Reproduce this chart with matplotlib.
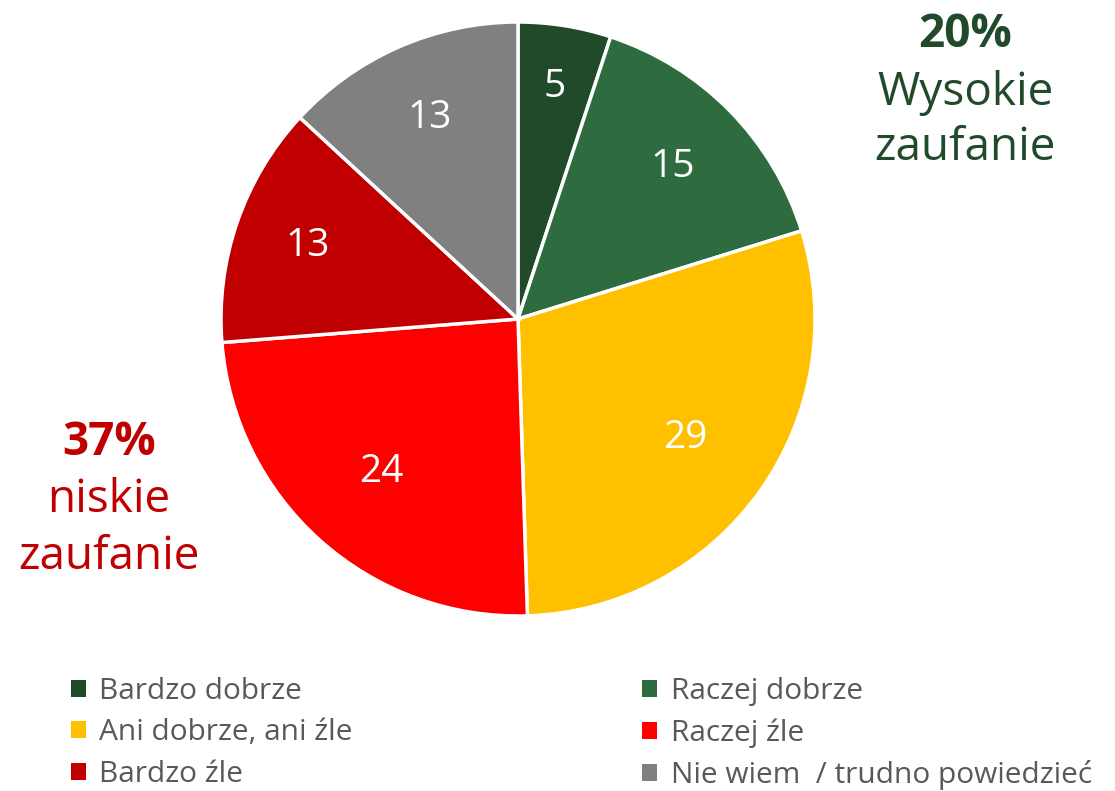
import matplotlib.pyplot as plt
from matplotlib.patches import Patch
import numpy as np

plt.rcParams['font.family'] = ['Open Sans', 'DejaVu Sans']

categories = ['Bardzo dobrze', 'Raczej dobrze', 'Ani dobrze, ani źle',
              'Raczej źle', 'Bardzo źle', 'Nie wiem  / trudno powiedzieć']
values = [5, 15, 29, 24, 13, 13]
colors = ['#214A2B', '#2E6B3E', '#FFC000', '#FF0000', '#C00000', '#808080']
label_dist = [0.79, 0.73, 0.69, 0.69, 0.75, 0.74]

high_trust = '20%'
low_trust = '37%'

W, H = 1115, 791
fig = plt.figure(figsize=(W / 100, H / 100), dpi=100)

# pie axes: centre at (518, 318) px, radius ~297 px
cx, cy, r = 518, 319, 297
ax = fig.add_axes([(cx - r) / W, (H - cy - r) / H, 2 * r / W, 2 * r / H])
wedges, _ = ax.pie(values, colors=colors, startangle=90, counterclock=False,
                   wedgeprops=dict(edgecolor='white', linewidth=2.5))
ax.set_xlim(-1, 1)
ax.set_ylim(-1, 1)

# value labels
total = sum(values)
cum = 0
for v, d in zip(values, label_dist):
    mid = 90 - (cum + v / 2) / total * 360
    cum += v
    x = d * np.cos(np.radians(mid))
    y = d * np.sin(np.radians(mid))
    ax.text(x, y, str(v), ha='center', va='center', color='white', fontsize=28)

# side annotations (baselines in px from top)
def px_text(x, y, s, **kw):
    fig.text(x / W, 1 - y / H, s, ha='center', va='baseline', fontsize=33, **kw)

green = '#214A2B'
red = '#C00000'
px_text(965, 47, high_trust, fontweight='bold', color=green)
px_text(965, 105, 'Wysokie', color=green)
px_text(965, 160, 'zaufanie', color=green)
px_text(109, 455, low_trust, fontweight='bold', color=red)
px_text(109, 512, 'niskie', color=red)
px_text(109, 569, 'zaufanie', color=red)

# legend
handles = [Patch(facecolor=c, edgecolor='none') for c in colors]
order = [0, 2, 4, 1, 3, 5]
fig.legend([handles[i] for i in order], [categories[i] for i in order],
           loc='upper left', bbox_to_anchor=(44 / W, 1 - 650 / H),
           ncol=2, frameon=False, fontsize=21.5, labelcolor='#595959',
           handlelength=0.5, handleheight=0.5, handletextpad=0.45,
           columnspacing=9.7, labelspacing=0.42)

fig.savefig('out.png', dpi=100)
